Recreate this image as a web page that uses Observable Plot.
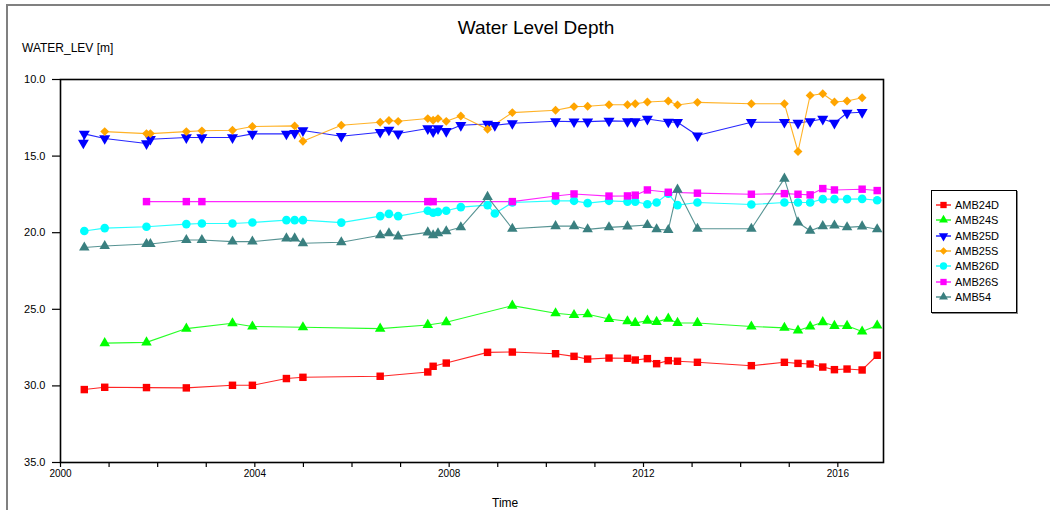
<!DOCTYPE html>
<html>
<head>
<meta charset="utf-8">
<script src="https://cdn.jsdelivr.net/npm/d3@7"></script>
<script src="https://cdn.jsdelivr.net/npm/@observablehq/plot@0.6"></script>
<style>
  body { margin: 0; background: #fff; font-family: "Liberation Sans", Arial, sans-serif; }
  #wrap { position: relative; width: 1050px; height: 510px; overflow: hidden; background: #fff; }
  #outer { position: absolute; left: 6px; top: 4px; width: 1100px; height: 600px; border-top: 2px solid #808080; border-left: 2px solid #808080; }
  #chart { position: absolute; left: 0; top: 0; }
  #title { position: absolute; left: 0; width: 1072px; top: 17px; text-align: center; font-size: 19px; color: #000; }
  #ylab { position: absolute; left: 22px; top: 41px; font-size: 12px; color: #000; }
  #xlab { position: absolute; left: 492px; top: 496px; font-size: 12px; color: #000; }
  #legend { position: absolute; left: 931px; top: 190px; width: 84px; height: 121px; border: 1px solid #000; box-shadow: 1px 1px 0 #888; background: #fff; }
  .row { position: absolute; left: 3px; height: 14px; display: flex; align-items: center; font-size: 11px; color: #000; }
  .row svg { margin-right: 3px; }
</style>
</head>
<body>
<div id="wrap">
  <div id="outer"></div>
  <div id="chart"></div>
  <div id="title">Water Level Depth</div>
  <div id="ylab">WATER_LEV [m]</div>
  <div id="xlab">Time</div>
  <div id="legend"></div>
</div>
<script>
// Sampling dates (decimal years)
const dates = [2000.47, 2000.49, 2000.91, 2001.77, 2001.85, 2002.59, 2002.91, 2003.54, 2003.95, 2004.65,
  2004.82, 2004.99, 2005.78, 2006.58, 2006.76, 2006.95, 2007.56, 2007.67, 2007.77, 2007.94,
  2008.24, 2008.79, 2008.94, 2009.30, 2010.19, 2010.57, 2010.85, 2011.29, 2011.67, 2011.83,
  2012.08, 2012.27, 2012.51, 2012.70, 2013.11, 2014.22, 2014.90, 2015.18, 2015.43, 2015.69,
  2015.93, 2016.19, 2016.50, 2016.81];

const AMB24D = [null, 30.24, 30.09, 30.11, null, 30.13, null, 29.96, 29.96, 29.52,
  null, 29.44, null, 29.37, null, null, 29.09, 28.72, null, 28.51,
  null, 27.81, null, 27.79, 27.90, 28.07, 28.25, 28.18, 28.20, 28.31,
  28.22, 28.55, 28.35, 28.39, 28.46, 28.68, 28.46, 28.53, 28.57, 28.77,
  28.94, 28.90, 28.96, 28.00];

const AMB24S = [null, null, 27.21, 27.16, null, 26.26, null, 25.91, 26.12, null,
  null, 26.17, null, 26.26, null, null, 26.02, null, null, 25.84,
  null, null, null, 24.76, 25.26, 25.37, 25.32, 25.63, 25.78, 25.89,
  25.74, 25.82, 25.61, 25.89, 25.89, 26.12, 26.21, 26.38, 26.12, 25.84,
  26.08, 26.08, 26.45, 26.06];

const AMB25D = [14.14, 13.55, 13.85, 14.18, 13.90, 13.79, 13.79, 13.79, 13.55, 13.55,
  13.50, 13.33, 13.70, 13.44, 13.29, 13.53, 13.20, 13.40, 13.20, 13.38,
  12.99, 12.90, 12.99, 12.86, 12.73, 12.75, 12.75, 12.70, 12.73, 12.73,
  12.58, null, 12.77, 12.79, 13.66, 12.79, 12.79, 12.84, 12.73, 12.58,
  12.84, 12.19, 12.14, null];

const AMB25S = [null, null, 13.40, 13.53, 13.53, 13.40, 13.35, 13.31, 13.07, null,
  13.03, 14.03, 12.99, 12.79, 12.68, 12.73, 12.55, 12.66, 12.55, 12.73,
  12.38, 13.25, null, 12.16, 12.01, 11.77, 11.75, 11.65, 11.65, 11.58,
  11.47, null, 11.40, 11.66, 11.49, 11.58, 11.58, 14.70, 11.04, 10.93,
  11.47, 11.40, 11.19, null];

const AMB26D = [null, 19.89, 19.70, 19.61, null, 19.44, 19.40, 19.40, 19.33, 19.18,
  19.18, 19.18, 19.34, 18.92, 18.77, 18.92, 18.57, 18.70, 18.64, 18.57,
  18.33, 18.20, 18.75, 18.03, 17.92, 17.92, 18.07, 17.92, 17.97, 17.97,
  18.14, 18.03, 17.45, 18.20, 18.03, 18.16, 18.03, 18.03, 18.03, 17.81,
  17.81, 17.81, 17.79, 17.88];

const AMB26S = [null, null, null, 17.97, null, 17.97, 17.97, null, null, null,
  null, null, null, null, null, null, 17.97, 17.97, null, null,
  null, null, null, 17.97, 17.60, 17.47, null, 17.61, 17.60, 17.55,
  17.21, null, 17.36, null, 17.42, 17.49, 17.45, 17.49, 17.53, 17.12,
  17.21, null, 17.16, 17.25];

const AMB54 = [null, 20.97, 20.87, 20.74, 20.74, 20.48, 20.48, 20.58, 20.58, 20.37,
  20.37, 20.69, 20.62, 20.17, 20.04, 20.24, 19.98, 20.17, 20.04, 19.91,
  19.65, 17.66, null, 19.74, 19.57, 19.57, 19.78, 19.65, 19.59, null,
  19.50, 19.78, 19.82, 17.19, 19.74, 19.74, 16.47, 19.33, 19.87, 19.57,
  19.53, 19.65, 19.59, 19.78];

const seriesNames = ["AMB24D", "AMB24S", "AMB25D", "AMB25S", "AMB26D", "AMB26S", "AMB54"];
const seriesValues = [AMB24D, AMB24S, AMB25D, AMB25S, AMB26D, AMB26S, AMB54];
const seriesColors = ["#ff0000", "#00ff00", "#0000ff", "#ffa500", "#00ffff", "#ff00ff", "#3a8080"];
const seriesSymbols = ["square", "triangle", "triangle", "diamond2", "circle", "square", "triangle"];
const seriesRotate = [0, 0, 180, 0, 0, 0, 0];
const seriesRadius = [4.2, 3.9, 4.1, 4.0, 4.3, 4.2, 3.9];

const yTicks = [10, 15, 20, 25, 30, 35];
const xTicks = d3.range(2000, 2017);
const xTickLabels = [2000, 2004, 2008, 2012, 2016];

// Long table
const rows = [];
seriesNames.forEach((name, s) => {
  seriesValues[s].forEach((v, i) => {
    if (v != null) rows.push({ series: name, date: dates[i], value: v });
  });
});

const marks = [];
seriesNames.forEach((name, s) => {
  marks.push(Plot.line(rows.filter(d => d.series === name), {
    x: "date", y: "value", stroke: seriesColors[s], strokeWidth: 1.1, strokeOpacity: 0.85
  }));
});
seriesNames.forEach((name, s) => {
  marks.push(Plot.dot(rows.filter(d => d.series === name), {
    x: "date", y: "value", symbol: seriesSymbols[s], r: seriesRadius[s],
    rotate: seriesRotate[s], fill: seriesColors[s], stroke: "none"
  }));
});

const chart = Plot.plot({
  width: 1050,
  height: 510,
  marginLeft: 60,
  marginRight: 167,
  marginTop: 79,
  marginBottom: 48,
  style: { fontFamily: "Liberation Sans, Arial, sans-serif", background: "transparent", color: "#000" },
  x: { domain: [2000, 2016.94] },
  y: { domain: [10, 35], reverse: true },
  marks: [
    Plot.axisY({ ticks: yTicks, tickFormat: d3.format(".1f"), tickSize: 8, tickPadding: 7, label: null, fontSize: 11, strokeWidth: 1.2 }),
    Plot.axisX({ ticks: xTicks, tickFormat: d => xTickLabels.includes(d) ? String(d) : "", tickSize: 5, tickPadding: 2, label: null, fontSize: 10, strokeWidth: 1.2 }),
    ...marks,
    Plot.frame({ stroke: "#000", strokeWidth: 1.6 })
  ]
});
document.getElementById("chart").appendChild(chart);

// Legend
const legend = d3.select("#legend");
seriesNames.forEach((name, s) => {
  const row = legend.append("div").attr("class", "row").style("top", (7 + s * 15.3) + "px");
  const svg = row.append("svg").attr("width", 17).attr("height", 12);
  svg.append("line").attr("x1", 1).attr("x2", 16).attr("y1", 6).attr("y2", 6)
    .attr("stroke", seriesColors[s]).attr("stroke-width", 1.3);
  const symMap = { square: d3.symbolSquare, triangle: d3.symbolTriangle, diamond2: d3.symbolDiamond2, circle: d3.symbolCircle };
  const r = seriesRadius[s] * 0.85;
  svg.append("path")
    .attr("d", d3.symbol(symMap[seriesSymbols[s]], Math.PI * r * r)())
    .attr("transform", `translate(8.5,6) rotate(${seriesRotate[s]})`)
    .attr("fill", seriesColors[s]);
  row.append("span").text(name);
});
</script>
</body>
</html>
